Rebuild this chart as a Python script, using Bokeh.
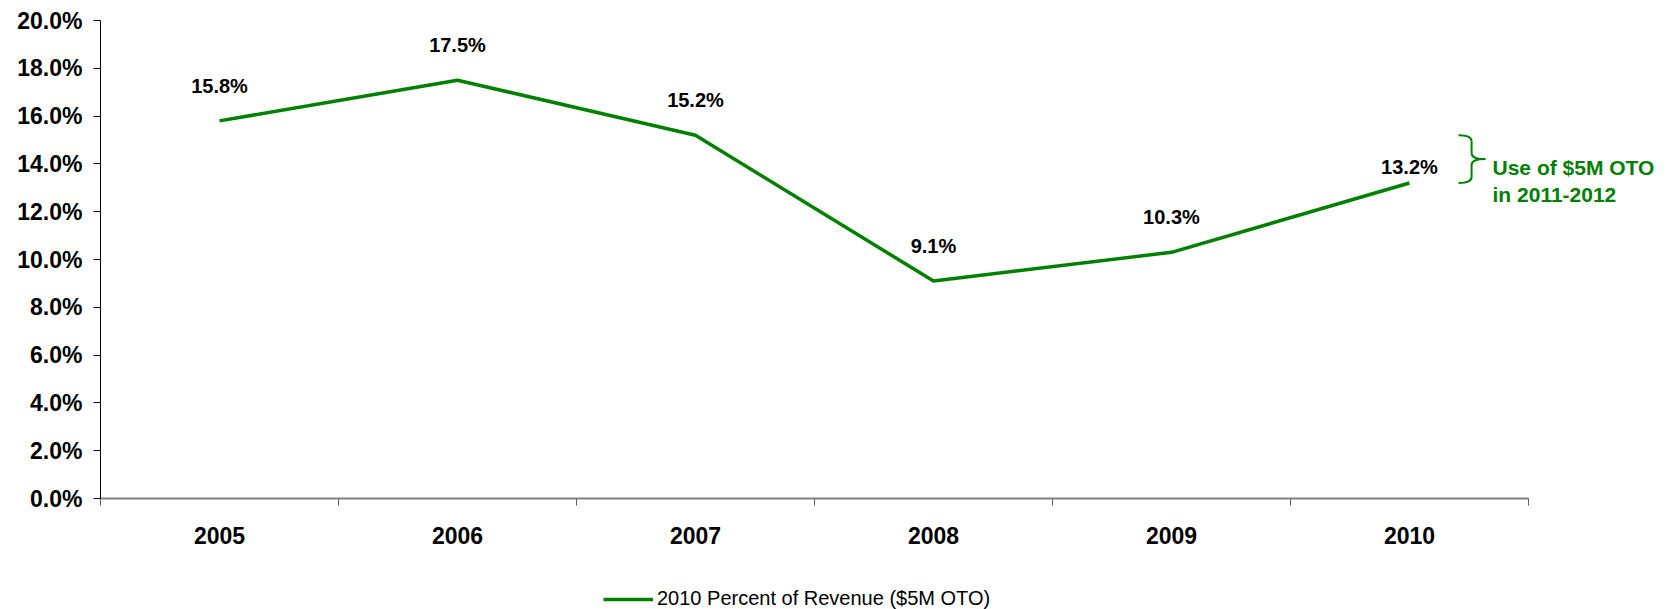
from bokeh.plotting import figure
from bokeh.models import (Range1d, FixedTicker, Label, LabelSet, ColumnDataSource)
from bokeh.core.properties import value
from bokeh.layouts import column
from bokeh.embed import file_html
from bokeh.resources import INLINE
import numpy as np

# ---- data ----
years = ["2005", "2006", "2007", "2008", "2009", "2010"]
pct_revenue = [15.8, 17.5, 15.2, 9.1, 10.3, 13.2]
value_labels = ["15.8%", "17.5%", "15.2%", "9.1%", "10.3%", "13.2%"]
y_ticks = [0, 2, 4, 6, 8, 10, 12, 14, 16, 18, 20]
series_name = "2010 Percent of Revenue ($5M OTO)"
note_lines = ["Use of $5M OTO", "in 2011-2012"]

GREEN = "#008000"
FONT = "Liberation Sans"
W = 1676
MAIN_H = 575
LEG_H = 34

n = len(years)
xs = np.arange(n) + 0.5  # category centres

p = figure(width=W, height=MAIN_H, output_backend="svg", toolbar_location=None,
           x_range=Range1d(0, 6.622), y_range=Range1d(0, 20),
           min_border_left=100, min_border_right=0, min_border_top=20,
           min_border_bottom=77)
p.outline_line_color = None
p.xgrid.visible = False
p.ygrid.visible = False
p.background_fill_color = "white"
p.border_fill_color = "white"

# y axis
ya = p.yaxis[0]
ya.ticker = FixedTicker(ticks=y_ticks, minor_ticks=[])
ya.major_label_overrides = {t: f"{t:.1f}%" for t in y_ticks}
ya.axis_line_color = "black"
ya.axis_line_width = 1
ya.major_tick_out = 7
ya.major_tick_in = 0
ya.major_tick_line_color = "black"
ya.minor_tick_line_color = None
ya.major_label_standoff = 11
ya.major_label_text_font = FONT
ya.major_label_text_font_style = "bold"
ya.major_label_text_font_size = "23px"
ya.major_label_text_color = "black"

# x axis
xa = p.xaxis[0]
xa.ticker = FixedTicker(ticks=list(xs), minor_ticks=list(range(n + 1)))
xa.major_label_overrides = {float(x): y for x, y in zip(xs, years)}
xa.bounds = (0, n)
xa.axis_line_color = "#808080"
xa.axis_line_width = 2
xa.major_tick_out = 0
xa.major_tick_in = 0
xa.major_tick_line_color = None
xa.minor_tick_out = 7
xa.minor_tick_in = 0
xa.minor_tick_line_color = "#606060"
xa.minor_tick_line_width = 1
xa.major_label_standoff = 21
xa.major_label_text_font = FONT
xa.major_label_text_font_style = "bold"
xa.major_label_text_font_size = "23px"
xa.major_label_text_color = "black"

src = ColumnDataSource(dict(x=xs, y=pct_revenue, lbl=value_labels,
                            off=[28, 28, 28, 28, 28, 9]))
p.line("x", "y", source=src, line_color=GREEN, line_width=3.5)

labels = LabelSet(x="x", y="y", text="lbl", source=src, y_offset="off",
                  text_align="center", text_baseline="alphabetic",
                  text_font=value(FONT), text_font_style="bold",
                  text_font_size="20px", text_color="black")
p.add_layout(labels)

# brace annotation next to the last point
lx = xs[-1]
lv = pct_revenue[-1]
x0, xm, xt = lx + 0.206, lx + 0.261, lx + 0.319
yb = lv
ytop = lv + 2.0
ymid = (yb + ytop) / 2
h = ytop - yb
q = 0.125 * h
bw = 2
p.quadratic(x0=[x0, xm, xt, xm], y0=[ytop, ymid + q, ymid, yb + q],
            x1=[xm, xt, xm, x0], y1=[ytop - q, ymid, ymid - q, yb],
            cx=[xm, xm, xm, xm], cy=[ytop, ymid, ymid, yb],
            line_color=GREEN, line_width=bw)
p.segment(x0=[xm, xm], y0=[ytop - q, ymid - q],
          x1=[xm, xm], y1=[ymid + q, yb + q],
          line_color=GREEN, line_width=bw)

note_x = lx + 0.349
p.add_layout(Label(x=note_x, y=13.85, text=note_lines[0], text_font=FONT,
                   text_font_style="bold", text_font_size="21px", text_color=GREEN,
                   text_baseline="alphabetic"))
p.add_layout(Label(x=note_x, y=12.72, text=note_lines[1], text_font=FONT,
                   text_font_style="bold", text_font_size="21px", text_color=GREEN,
                   text_baseline="alphabetic"))

# ---- legend strip below the chart ----
pl = figure(width=W, height=LEG_H, output_backend="svg", toolbar_location=None,
            x_range=Range1d(0, W), y_range=Range1d(0, LEG_H),
            x_axis_location=None, y_axis_location=None,
            min_border=0, min_border_left=0, min_border_right=0,
            min_border_top=0, min_border_bottom=0)
pl.outline_line_color = None
pl.xgrid.visible = False
pl.ygrid.visible = False
# series line sample for the legend (its data lies outside the visible range)
pl.line(x=[-20, -10], y=[-20, -20], line_color=GREEN, line_width=3.5,
        legend_label=series_name)
lg = pl.legend[0]
lg.location = (503, -1)
lg.orientation = "horizontal"
lg.glyph_width = 50
lg.glyph_height = 20
lg.label_height = 20
lg.label_standoff = 4
lg.padding = 0
lg.margin = 0
lg.spacing = 0
lg.border_line_color = None
lg.background_fill_alpha = 0
lg.label_text_font = FONT
lg.label_text_font_size = "20px"
lg.label_text_color = "black"

layout = column(p, pl, spacing=0)
open("out.html", "w").write(file_html(layout, INLINE))
